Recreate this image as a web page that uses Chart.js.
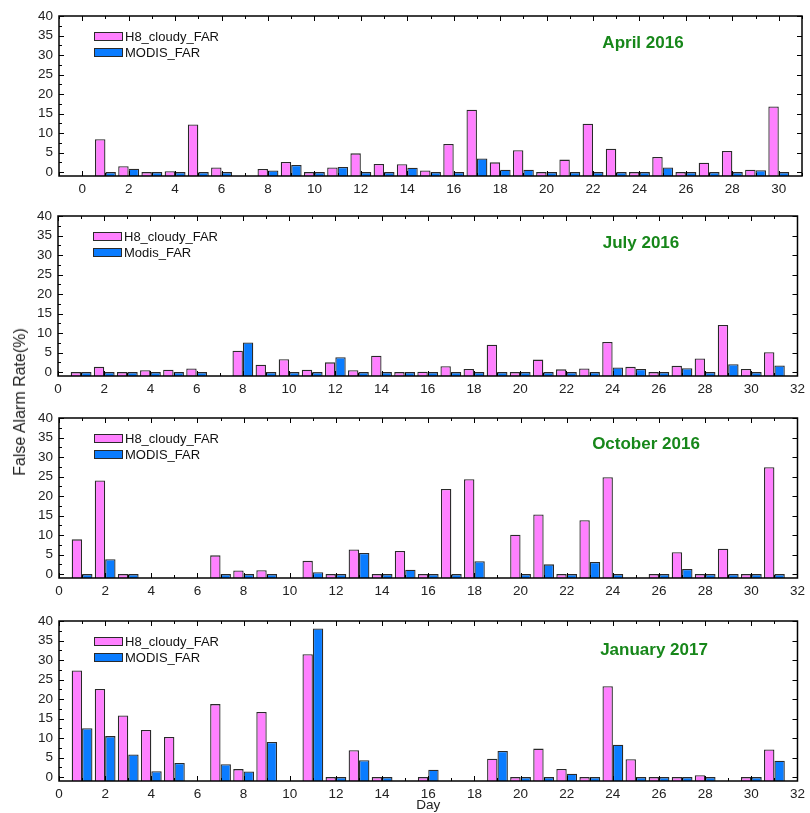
<!DOCTYPE html>
<html>
<head>
<meta charset="utf-8">
<script src="https://cdn.jsdelivr.net/npm/chart.js@4.4.1/dist/chart.umd.min.js"></script>
<style>
  body { margin: 0; background: #fff; }
  #wrap { position: relative; width: 810px; height: 813px; }
  .panel { position: absolute; left: 0; }
  #y-title {
    position: absolute; left: 20px; top: 402px;
    transform: translate(-50%, -50%) rotate(-90deg);
    font: 16px "Liberation Sans", Arial, sans-serif; color: #222; white-space: nowrap;
  }
</style>
</head>
<body>
<div id="wrap">
  <canvas id="chart-apr" class="panel"></canvas>
  <canvas id="chart-jul" class="panel"></canvas>
  <canvas id="chart-oct" class="panel"></canvas>
  <canvas id="chart-jan" class="panel"></canvas>
  <div id="y-title">False Alarm Rate(%)</div>
</div>
<script>
'use strict';

// ******* DATA *******
const dayNumbers = [1, 2, 3, 4, 5, 6, 7, 8, 9, 10, 11, 12, 13, 14, 15, 16,
  17, 18, 19, 20, 21, 22, 23, 24, 25, 26, 27, 28, 29, 30, 31];
const xTickLabels = [0, 2, 4, 6, 8, 10, 12, 14, 16, 18, 20, 22, 24, 26, 28, 30, 32];
const yTickLabels = [0, 5, 10, 15, 20, 25, 30, 35, 40];

// April 2016 (no day 7, no day 31)
const aprH8 = [8.4, 1.5, 0, 0.2, 12.2, 1.2, null, 0.8, 2.6, 0, 1.2, 4.8, 2.1, 2.0, 0.4, 7.2,
  16.0, 2.5, 5.6, 0, 3.2, 12.4, 6.0, 0, 3.9, 0, 2.4, 5.4, 0.6, 16.8, null];
const aprModis = [0, 0.85, 0, 0, 0, 0, null, 0.4, 1.8, 0, 1.3, 0, 0, 1.1, 0, 0,
  3.5, 0.6, 0.6, 0, 0, 0, 0, 0, 1.2, 0, 0, 0, 0.5, 0, null];

// July 2016
const julH8 = [0, 1.35, 0, 0.5, 0.6, 0.95, null, 5.5, 1.9, 3.3, 0.6, 2.5, 0.5, 4.2, 0, 0.1,
  1.5, 0.8, 7.0, 0, 3.2, 0.7, 0.95, 7.7, 1.35, 0, 1.6, 3.5, 12.1, 0.8, 5.1];
const julModis = [0, 0, 0, 0, 0, 0, null, 7.6, 0, 0, 0, 3.8, 0, 0, 0, 0,
  0, 0, 0, 0, 0, 0, 0, 1.2, 0.8, 0, 1.0, 0, 2.0, 0, 1.7];

// October 2016
const octH8 = [8.9, 24.0, 0, null, null, null, 4.8, 0.95, 1.0, null, 3.4, 0, 6.3, 0, 5.9, 0,
  21.8, 24.3, null, 10.1, 15.3, 0, 13.8, 24.8, null, 0, 5.6, 0, 6.5, 0, 27.4];
const octModis = [0, 3.8, 0, null, null, null, 0, 0, 0, null, 0.5, 0, 5.4, 0, 1.1, 0,
  0, 3.3, null, 0, 2.5, 0, 3.1, 0, null, 0, 1.3, 0, 0, 0, 0];

// January 2017
const janH8 = [27.3, 22.6, 15.8, 12.1, 10.3, null, 18.7, 2.05, 16.7, null, 31.5, 0, 6.9, 0, null, 0,
  null, null, 4.7, 0, 7.3, 2.1, 0, 23.3, 4.6, 0, 0, 0.5, null, 0, 7.1];
const janModis = [12.5, 10.5, 5.8, 1.5, 3.6, null, 3.3, 1.45, 9.0, null, 38.1, 0, 4.3, 0, null, 1.9,
  null, null, 6.7, 0, 0, 0.85, 0, 8.3, 0, 0, 0, 0, null, 0, 4.2];

// ******* STYLE *******
const pink = '#ff80ff';
const blue = '#0a7cff';
const edge = '#2a2a2a';
const green = '#17871a';
const fontFamily = '"Liberation Sans", Arial, sans-serif';

// ******* PANELS *******
let panels = [
  { id: 'chart-apr', title: 'April 2016', names: ['H8_cloudy_FAR', 'MODIS_FAR'], h8: aprH8, modis: aprModis,
    xMin: -1, xMax: 31, top: 0, height: 200, plotTop: 16, plotBottom: 176, left: 59, right: 802, titleX: 584, titleY: 27 },
  { id: 'chart-jul', title: 'July 2016', names: ['H8_cloudy_FAR', 'Modis_FAR'], h8: julH8, modis: julModis,
    xMin: 0, xMax: 32, top: 200, height: 200, plotTop: 16, plotBottom: 176, left: 58, right: 805, titleX: 583, titleY: 27 },
  { id: 'chart-oct', title: 'October 2016', names: ['H8_cloudy_FAR', 'MODIS_FAR'], h8: octH8, modis: octModis,
    xMin: 0, xMax: 32, top: 400, height: 200, plotTop: 18, plotBottom: 178, left: 59, right: 805, titleX: 587, titleY: 26 },
  { id: 'chart-jan', title: 'January 2017', names: ['H8_cloudy_FAR', 'MODIS_FAR'], h8: janH8, modis: janModis,
    xMin: 0, xMax: 32, top: 603, height: 210, plotTop: 18, plotBottom: 178, left: 59, right: 803, titleX: 595, titleY: 29, dayTitle: true },
];

// ****** HELPERS ******
function toPoints(values) {
  return dayNumbers.map((d, i) => ({ x: d, y: values[i] === undefined ? null : values[i] }));
}

// frame, inward ticks, inner legend and month title
const framePlugin = {
  id: 'frame',
  afterDatasetsDraw(chart, args, opts) {
    const ctx = chart.ctx;
    const a = chart.chartArea;
    const xs = chart.scales.x;
    const ys = chart.scales.y;
    ctx.save();
    ctx.strokeStyle = '#000';
    ctx.lineWidth = 1.5;
    ctx.strokeRect(a.left, a.top, a.right - a.left, a.bottom - a.top);

    ctx.lineWidth = 1;
    ctx.beginPath();
    for (let v = Math.ceil(xs.min); v <= xs.max; v++) {
      const px = Math.round(xs.getPixelForValue(v)) + 0.5;
      const len = v % 2 === 0 ? 5 : 3;
      ctx.moveTo(px, a.bottom); ctx.lineTo(px, a.bottom - len);
      ctx.moveTo(px, a.top); ctx.lineTo(px, a.top + len);
    }
    for (let v = 0; v <= 40; v += 2.5) {
      const py = Math.round(ys.getPixelForValue(v)) + 0.5;
      const major = v % 5 === 0;
      ctx.moveTo(a.left, py); ctx.lineTo(a.left + (major ? 5 : 3), py);
      if (major) { ctx.moveTo(a.right, py); ctx.lineTo(a.right - 5, py); }
    }
    ctx.stroke();

    // legend
    const colors = [pink, blue];
    ctx.font = '13px ' + fontFamily;
    ctx.textBaseline = 'middle';
    ctx.textAlign = 'left';
    opts.names.forEach((name, i) => {
      const bx = a.left + 35;
      const by = a.top + 16 + i * 16;
      ctx.fillStyle = colors[i];
      ctx.fillRect(bx, by, 29, 9);
      ctx.strokeStyle = edge;
      ctx.lineWidth = 1;
      ctx.strokeRect(bx + 0.5, by + 0.5, 28, 8);
      ctx.fillStyle = '#111';
      ctx.fillText(name, a.left + 66, by + 5);
    });

    // month title
    ctx.font = 'bold 17px ' + fontFamily;
    ctx.fillStyle = green;
    ctx.textAlign = 'center';
    ctx.fillText(opts.title, a.left + opts.titleX, a.top + opts.titleY);
    ctx.restore();
  }
};

function buildChart(p) {
  const canvas = document.getElementById(p.id);
  canvas.width = 810;
  canvas.height = p.height;
  canvas.style.top = p.top + 'px';

  return new Chart(canvas, {
    type: 'bar',
    data: {
      datasets: [
        { label: p.names[0], data: toPoints(p.h8), backgroundColor: pink, borderColor: edge, borderWidth: 1.3, base: -1 },
        { label: p.names[1], data: toPoints(p.modis), backgroundColor: blue, borderColor: edge, borderWidth: 1.3, base: -1 },
      ]
    },
    options: {
      responsive: false,
      animation: false,
      categoryPercentage: 0.9,
      barPercentage: 1.0,
      layout: { padding: { top: p.plotTop, right: 810 - p.right, left: 0, bottom: 0 } },
      plugins: {
        legend: { display: false },
        tooltip: { enabled: false },
        frame: { names: p.names, title: p.title, titleX: p.titleX, titleY: p.titleY },
      },
      scales: {
        x: {
          type: 'linear',
          min: p.xMin,
          max: p.xMax,
          offset: false,
          grid: { display: false, drawTicks: false },
          border: { display: false },
          afterBuildTicks: axis => { axis.ticks = xTickLabels.filter(v => v >= p.xMin && v <= p.xMax).map(v => ({ value: v })); },
          afterFit: axis => { axis.height = p.height - p.plotBottom; },
          ticks: { padding: 5, color: '#222', font: { family: fontFamily, size: 13.5 }, maxRotation: 0, autoSkip: false },
          title: { display: !!p.dayTitle, text: 'Day', color: '#222', font: { family: fontFamily, size: 13.5 }, padding: { top: 0, bottom: 0 } },
        },
        y: {
          min: -1,
          max: 40,
          grid: { display: false, drawTicks: false },
          border: { display: false },
          afterBuildTicks: axis => { axis.ticks = yTickLabels.map(v => ({ value: v })); },
          afterFit: axis => { axis.width = p.left; },
          ticks: { padding: 6, color: '#222', font: { family: fontFamily, size: 13.5 } },
        }
      }
    },
    plugins: [framePlugin]
  });
}

// ****** EXECUTABLE CODE ******
panels.forEach(buildChart);
</script>
</body>
</html>
